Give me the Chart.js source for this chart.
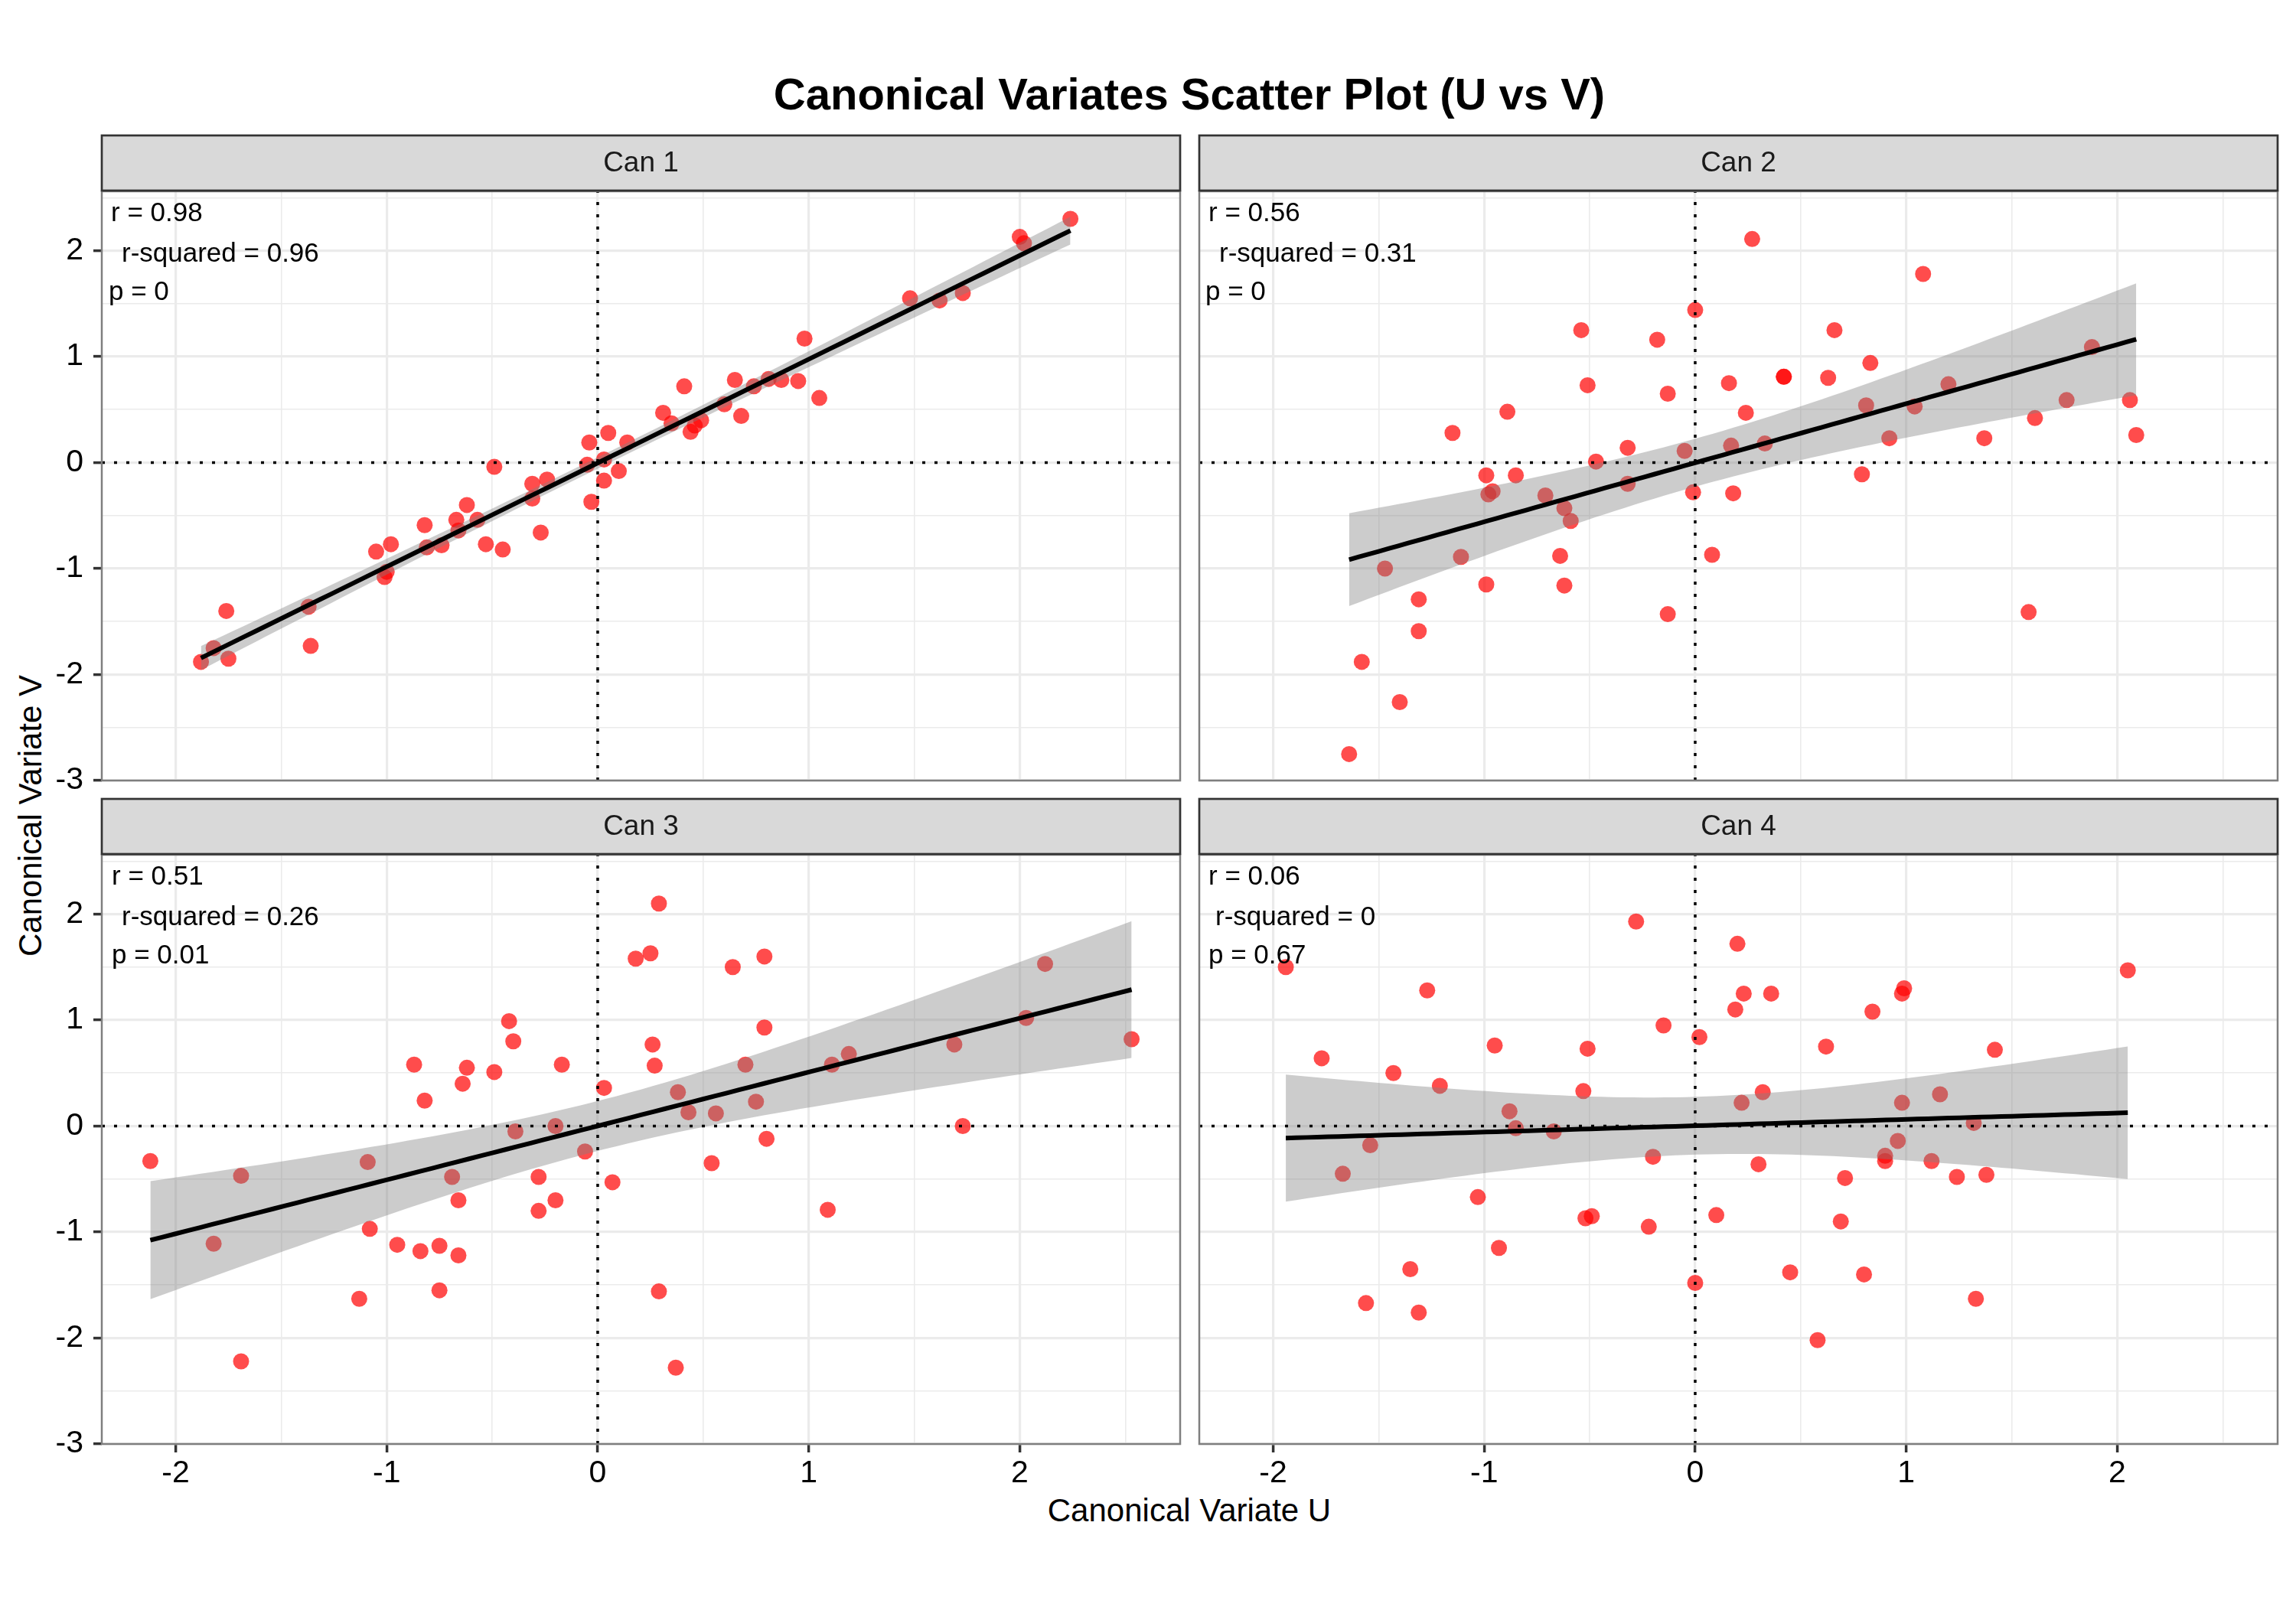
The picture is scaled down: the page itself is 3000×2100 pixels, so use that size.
<!DOCTYPE html>
<html><head><meta charset="utf-8">
<script src="https://cdn.jsdelivr.net/npm/chart.js@4.4.1/dist/chart.umd.min.js"></script>
<style>
html,body{margin:0;padding:0;background:#fff;}
#wrap{position:relative;width:3000px;height:2100px;overflow:hidden;background:#fff;font-family:"Liberation Sans",Arial,sans-serif;}
canvas{position:absolute;}
.t{position:absolute;white-space:nowrap;line-height:1;color:#000;font-family:"Liberation Sans",Arial,sans-serif;}
</style></head><body>
<div id="wrap">
 <div class="t" style="font-size:58px;font-weight:bold;left:1554px;top:94px;transform:translateX(-50%);">Canonical Variates Scatter Plot (U vs V)</div>
 <div class="t" style="font-size:42px;left:1554px;top:1953px;transform:translateX(-50%);">Canonical Variate U</div>
 <div class="t" style="font-size:42px;left:40px;top:1066px;transform:translate(-50%,-50%) rotate(-90deg);">Canonical Variate V</div>
</div>
<script>
// ---------- data ----------
const panelNames = ['Can 1','Can 2','Can 3','Can 4'];
const rLabels  = ['0.98','0.56','0.51','0.06'];
const r2Labels = ['0.96','0.31','0.26','0'];
const pLabels  = ['0','0','0.01','0.67'];

const xTickVals = [-2,-1,0,1,2];
const yTickVals = [-3,-2,-1,0,1,2];
const xGridVals = [-2,-1.5,-1,-0.5,0,0.5,1,1.5,2,2.5];
const yGridVals = [-3,-2.5,-2,-1.5,-1,-0.5,0,0.5,1,1.5,2,2.5];

const can1U = [-1.88,-1.82,-1.75,-1.76,-1.37,-1.36,-1.05,-0.98,-1.01,-1.00,-0.82,-0.81,-0.74,-0.67,-0.66,-0.62,-0.57,-0.53,-0.45,-0.49,-0.31,-0.31,-0.24,-0.27,-0.04,-0.05,-0.03,0.03,0.03,0.05,0.10,0.14,0.31,0.35,0.41,0.44,0.46,0.49,0.60,0.68,0.65,0.74,0.81,0.87,0.95,0.98,1.05,1.48,1.62,1.73,2.00,2.02,2.24];
const can1V = [-1.88,-1.75,-1.85,-1.40,-1.36,-1.73,-0.84,-0.77,-1.08,-1.03,-0.59,-0.80,-0.78,-0.54,-0.64,-0.40,-0.54,-0.77,-0.82,-0.04,-0.20,-0.34,-0.16,-0.66,0.19,-0.02,-0.37,-0.17,0.03,0.28,-0.08,0.19,0.47,0.37,0.72,0.29,0.35,0.40,0.55,0.44,0.78,0.72,0.79,0.78,0.77,1.17,0.61,1.55,1.53,1.60,2.13,2.07,2.30];

const can2U = [-1.64,-1.58,-1.47,-1.40,-1.31,-1.31,-1.15,-1.11,-0.99,-0.98,-0.96,-0.99,-0.89,-0.85,-0.71,-0.64,-0.62,-0.59,-0.62,-0.54,-0.51,-0.47,-0.32,-0.32,-0.18,-0.13,-0.13,-0.05,0.00,-0.01,0.08,0.16,0.17,0.18,0.24,0.27,0.33,0.42,0.42,0.63,0.66,0.81,0.79,0.83,0.92,1.04,1.08,1.20,1.37,1.58,1.61,1.76,1.88,2.06,2.09];
const can2V = [-2.75,-1.88,-1.00,-2.26,-1.29,-1.59,0.28,-0.89,-0.12,-0.30,-0.27,-1.15,0.48,-0.12,-0.31,-0.88,-0.43,-0.55,-1.16,1.25,0.73,0.01,0.14,-0.20,1.16,0.65,-1.43,0.11,1.44,-0.28,-0.87,0.75,0.16,-0.29,0.47,2.11,0.18,0.81,0.81,0.80,1.25,0.54,-0.11,0.94,0.23,0.53,1.78,0.74,0.23,-1.41,0.42,0.59,1.09,0.59,0.26];

const can3U = [-2.12,-1.82,-1.69,-1.69,-1.13,-1.09,-1.08,-0.95,-0.87,-0.84,-0.82,-0.75,-0.75,-0.69,-0.66,-0.66,-0.64,-0.62,-0.49,-0.42,-0.40,-0.39,-0.28,-0.28,-0.20,-0.20,-0.17,-0.06,0.03,0.07,0.18,0.25,0.26,0.27,0.29,0.29,0.37,0.38,0.43,0.54,0.56,0.64,0.70,0.75,0.79,0.79,0.80,1.09,1.11,1.19,1.69,1.73,2.03,2.12,2.53];
const can3V = [-0.33,-1.11,-0.47,-2.22,-1.63,-0.34,-0.97,-1.12,0.58,-1.18,0.24,-1.13,-1.55,-0.48,-1.22,-0.70,0.40,0.55,0.51,0.99,0.80,-0.05,-0.48,-0.80,-0.70,0.00,0.58,-0.24,0.36,-0.53,1.58,1.63,0.77,0.57,2.10,-1.56,-2.28,0.32,0.13,-0.35,0.12,1.50,0.58,0.23,0.93,1.60,-0.12,-0.79,0.58,0.68,0.77,0.00,1.02,1.53,0.82];

const can4U = [-1.94,-1.77,-1.67,-1.56,-1.54,-1.43,-1.35,-1.31,-1.27,-1.21,-1.03,-0.95,-0.93,-0.88,-0.85,-0.67,-0.53,-0.51,-0.52,-0.49,-0.28,-0.20,-0.22,-0.15,0.00,0.02,0.10,0.19,0.20,0.22,0.23,0.30,0.32,0.36,0.45,0.58,0.62,0.69,0.71,0.80,0.84,0.90,0.90,0.96,0.98,0.98,0.99,1.12,1.16,1.24,1.32,1.33,1.38,1.42,2.05];
const can4V = [1.50,0.64,-0.45,-1.67,-0.18,0.50,-1.35,-1.76,1.28,0.38,-0.67,0.76,-1.15,0.14,-0.02,-0.05,0.33,0.73,-0.87,-0.85,1.93,-0.29,-0.95,0.95,-1.48,0.84,-0.84,1.10,1.72,0.22,1.25,-0.36,0.32,1.25,-1.38,-2.02,0.75,-0.90,-0.49,-1.40,1.08,-0.28,-0.33,-0.14,0.22,1.25,1.30,-0.33,0.30,-0.48,0.03,-1.63,-0.46,0.72,1.47];

// ---------- layout / style ----------
const xLim = [-2.35, 2.76];
const yLim = [-3.0, 2.56];
const FONT = '"Liberation Sans", Arial, sans-serif';
const panelX = [[133,1542],[1567,2976]];
const panelY = [[250,1020],[1117,1887]];
const annOff = [[12,26,9],[12,26,8],[13,26,13],[12,21,12]];

// linear fit with 95% confidence band (as geom_smooth(method = "lm"))
function tq975(df){ const z=1.959964; return z + (z*z*z+z)/(4*df) + (5*z**5+16*z**3+3*z)/(96*df*df); }
function lmFit(xs, ys){
  const n = xs.length;
  const mx = xs.reduce((a,b)=>a+b,0)/n, my = ys.reduce((a,b)=>a+b,0)/n;
  let sxx=0, sxy=0;
  for(let i=0;i<n;i++){ sxx+=(xs[i]-mx)**2; sxy+=(xs[i]-mx)*(ys[i]-my); }
  const b = sxy/sxx, a = my - b*mx;
  let sse=0; for(let i=0;i<n;i++){ sse+=(ys[i]-a-b*xs[i])**2; }
  const s2 = sse/(n-2), t = tq975(n-2);
  const x0 = Math.min(...xs), x1 = Math.max(...xs);
  const line=[], up=[], lo=[];
  const N=80;
  for(let i=0;i<=N;i++){
    const x = x0 + (x1-x0)*i/N;
    const yh = a + b*x;
    const se = Math.sqrt(s2*(1/n + (x-mx)**2/sxx));
    line.push({x, y:yh}); up.push({x, y:yh+t*se}); lo.push({x, y:yh-t*se});
  }
  return {line, up, lo};
}

const panels = [[can1U,can1V],[can2U,can2V],[can3U,can3V],[can4U,can4V]];
const wrap = document.getElementById('wrap');

panels.forEach((pd, k) => {
  const c = k % 2, r = Math.floor(k/2);
  const [pl, pr] = panelX[c], [pt, pb] = panelY[r];
  const ML = c===0 ? 133 : 6, MB = r===1 ? 110 : 40, MT = 80, MR = 6;
  const cv = document.createElement('canvas');
  const W = ML + (pr-pl) + MR, H = MT + (pb-pt) + MB;
  cv.width = W; cv.height = H;
  cv.style.left = (pl-ML)+'px'; cv.style.top = (pt-MT)+'px';
  cv.style.width = W+'px'; cv.style.height = H+'px';
  wrap.appendChild(cv);

  const pts = pd[0].map((u,i)=>({x:u, y:pd[1][i]}));
  const f = lmFit(pd[0], pd[1]);
  const isMajor = v => Number.isInteger(v);

  const facet = {
    id: 'facet'+k,
    afterDraw(chart){
      const ctx = chart.ctx, a = chart.chartArea;
      const w = a.right - a.left;
      ctx.save();
      ctx.strokeStyle = '#7F7F7F'; ctx.lineWidth = 2.5;
      ctx.strokeRect(a.left, a.top, w, a.bottom - a.top);
      ctx.fillStyle = '#D9D9D9';
      ctx.fillRect(a.left, a.top-73, w, 72);
      ctx.strokeStyle = '#333333'; ctx.lineWidth = 2.7;
      ctx.strokeRect(a.left, a.top-73, w, 72);
      ctx.fillStyle = '#1A1A1A'; ctx.font = '37px ' + FONT;
      ctx.textAlign = 'center'; ctx.textBaseline = 'middle';
      ctx.fillText(panelNames[k], (a.left+a.right)/2, a.top-36);
      ctx.fillStyle = '#000'; ctx.font = '35px ' + FONT;
      ctx.textAlign = 'left'; ctx.textBaseline = 'alphabetic';
      const o = annOff[k];
      ctx.fillText('r = ' + rLabels[k], a.left + o[0], a.top + 39);
      ctx.fillText('r-squared = ' + r2Labels[k], a.left + o[1], a.top + 92);
      ctx.fillText('p = ' + pLabels[k], a.left + o[2], a.top + 142);
      ctx.restore();
    }
  };

  new Chart(cv, {
    type: 'scatter',
    data: { datasets: [
      { data:[{x:xLim[0],y:0},{x:xLim[1],y:0}], showLine:true, borderColor:'#000', borderWidth:3.5, borderDash:[4,12], pointRadius:0, order:0 },
      { data:[{x:0,y:yLim[0]},{x:0,y:yLim[1]}], showLine:true, borderColor:'#000', borderWidth:3.5, borderDash:[4,12], pointRadius:0, order:0 },
      { data:f.line, showLine:true, borderColor:'#000', borderWidth:6, pointRadius:0, order:1 },
      { data:f.up, showLine:true, borderColor:'rgba(0,0,0,0)', borderWidth:0, pointRadius:0, fill:4, backgroundColor:'rgba(128,128,128,0.4)', order:2 },
      { data:f.lo, showLine:true, borderColor:'rgba(0,0,0,0)', borderWidth:0, pointRadius:0, fill:false, order:3 },
      { data:pts, pointRadius:10.5, pointHoverRadius:10.5, backgroundColor:'rgba(255,0,0,0.7)', borderWidth:0, order:4 }
    ]},
    options: {
      responsive:false, animation:false, devicePixelRatio:1, events:[],
      layout:{ autoPadding:false, padding:{ left: c===0?0:6, right:MR, top:MT, bottom: r===1?0:MB } },
      plugins:{ legend:{display:false}, tooltip:{enabled:false}, title:{display:false} },
      scales:{
        x:{
          type:'linear', min:xLim[0], max:xLim[1],
          afterBuildTicks: s => { s.ticks = xGridVals.map(v=>({value:v})); },
          afterFit: s => { s.height = r===1 ? MB : 0; },
          border:{display:false},
          grid:{ color:'#EBEBEB', lineWidth: ctx => (ctx.tick && isMajor(ctx.tick.value)) ? 3.2 : 1.6,
                 drawTicks: r===1, tickLength:11, tickWidth:3.5,
                 tickColor: ctx => (ctx.tick && xTickVals.includes(ctx.tick.value)) ? '#333333' : 'rgba(0,0,0,0)' },
          ticks:{ display: r===1, autoSkip:false, maxRotation:0, padding:3, color:'#000',
                  font:{family:FONT, size:41},
                  callback: v => xTickVals.includes(v) ? String(v) : '' }
        },
        y:{
          type:'linear', min:yLim[0], max:yLim[1],
          afterBuildTicks: s => { s.ticks = yGridVals.map(v=>({value:v})); },
          afterFit: s => { s.width = c===0 ? ML : 0; },
          border:{display:false},
          grid:{ color:'#EBEBEB', lineWidth: ctx => (ctx.tick && isMajor(ctx.tick.value)) ? 3.2 : 1.6,
                 drawTicks: c===0, tickLength:11, tickWidth:3.5,
                 tickColor: ctx => (ctx.tick && yTickVals.includes(ctx.tick.value)) ? '#333333' : 'rgba(0,0,0,0)' },
          ticks:{ display: c===0, autoSkip:false, padding:13, color:'#000',
                  font:{family:FONT, size:41},
                  callback: v => yTickVals.includes(v) ? String(v) : '' }
        }
      }
    },
    plugins:[facet]
  });
});
</script>
</body></html>
